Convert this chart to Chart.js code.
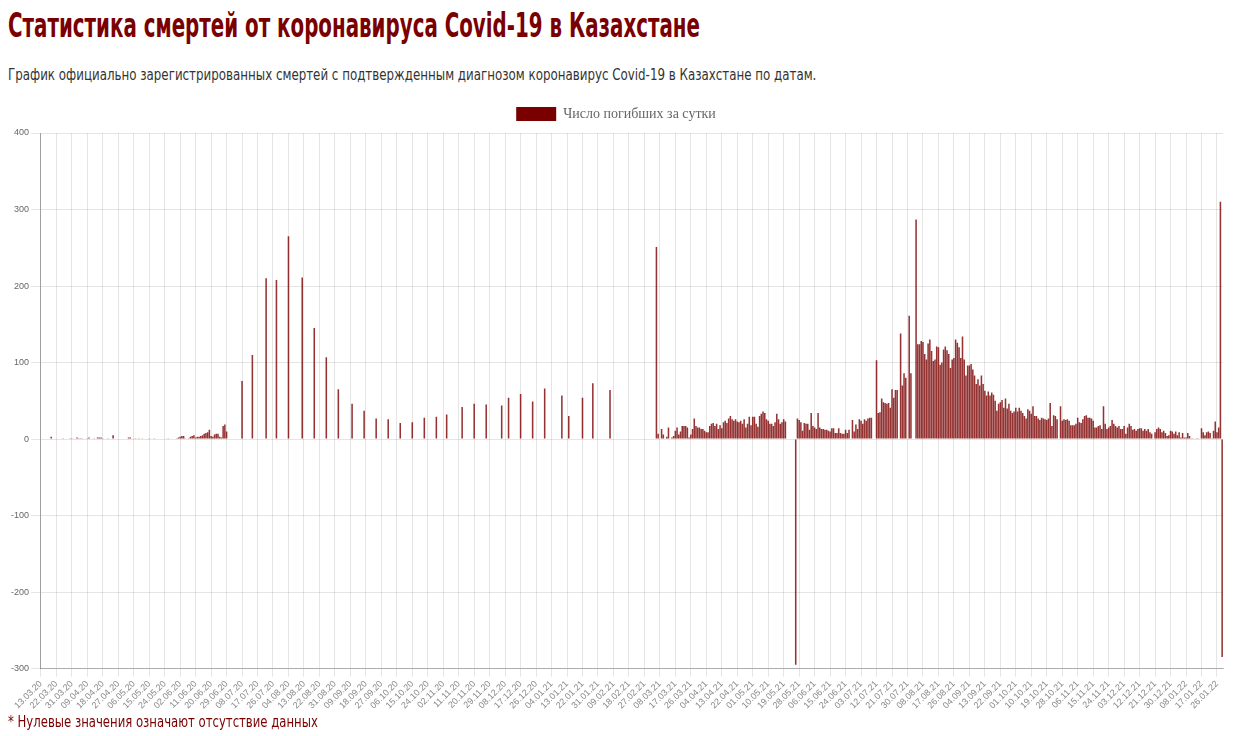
<!DOCTYPE html>
<html><head><meta charset="utf-8">
<script src="https://cdn.jsdelivr.net/npm/chart.js@4.4.0/dist/chart.umd.min.js"></script>
<style>
html,body{margin:0;padding:0;background:#fff;width:1243px;height:736px;overflow:hidden;}
.t{position:absolute;left:8px;white-space:nowrap;transform-origin:0 0;line-height:1;}
#title{top:9px;font-weight:bold;font-size:33px;font-family:"Liberation Sans Narrow","DejaVu Sans Condensed","Roboto Condensed","Liberation Sans",sans-serif;color:#7a0000;}
#sub{top:67px;font-size:16px;font-family:"Liberation Sans Narrow","DejaVu Sans Condensed","Liberation Sans",sans-serif;color:#333;}
#note{top:714px;font-size:16px;font-family:"Liberation Sans Narrow","DejaVu Sans Condensed","Liberation Sans",sans-serif;color:#7a0000;}
#wrap{position:absolute;left:0;top:99px;width:1243px;height:614px;}
</style>
</head><body>
<div class="t" id="title" data-w="692">Статистика смертей от коронавируса Covid-19 в Казахстане</div>
<div class="t" id="sub" data-w="808">График официально зарегистрированных смертей с подтвержденным диагнозом коронавирус Covid-19 в Казахстане по датам.</div>
<div id="wrap"><canvas id="c"></canvas></div>
<div class="t" id="note" data-w="310">* Нулевые значения означают отсутствие данных</div>
<script>
// ---- data ----
const firstDay = '13.03.20';
const lastDay = '29.01.22';
const seriesLabel = 'Число погибших за сутки';

const xTickLabels = ['13.03.20','22.03.20','31.03.20','09.04.20','18.04.20','27.04.20','06.05.20','15.05.20','24.05.20','02.06.20','11.06.20','20.06.20','29.06.20','08.07.20','17.07.20','26.07.20','04.08.20','13.08.20','22.08.20','31.08.20','09.09.20','18.09.20','27.09.20','06.10.20','15.10.20','24.10.20','02.11.20','11.11.20','20.11.20','29.11.20','08.12.20','17.12.20','26.12.20','04.01.21','13.01.21','22.01.21','31.01.21','09.02.21','18.02.21','27.02.21','08.03.21','17.03.21','26.03.21','04.04.21','13.04.21','22.04.21','01.05.21','10.05.21','19.05.21','28.05.21','06.06.21','15.06.21','24.06.21','03.07.21','12.07.21','21.07.21','30.07.21','08.08.21','17.08.21','26.08.21','04.09.21','13.09.21','22.09.21','01.10.21','10.10.21','19.10.21','28.10.21','06.11.21','15.11.21','24.11.21','03.12.21','12.12.21','21.12.21','30.12.21','08.01.22','17.01.22','26.01.22'];
const yTickValues = [-300,-200,-100,0,100,200,300,400];

// daily values, spring 2020 (from 13.03.20)
const spring2020Start = '13.03.20';
const spring2020 = [
 0,0,0,0,0,0,3,0,0,0,
 0,0,0,1,0,0,0,1,1,0,
 0,2,1,1,1,0,0,1,2,0,
 0,1,0,2,2,2,1,0,0,1,
 0,0,5,0,0,0,0,0,0,0,
 0,2,2,0,0,1,0,1,0,1,
 0,0,0,1,0,0,1,0,0,0,
 0,0,0,0,1,0,0,0,0,1,
 2,3,4,4,1,0,1,3,4,5,
 2,3,3,4,5,7,8,9,12,4,
 3,6,7,7,3,2,17,19,10
];

// weekly reports, July 2020 – February 2021
const weekly2020Dates = ['08.07.20','14.07.20','22.07.20','28.07.20','04.08.20','12.08.20','19.08.20','26.08.20','02.09.20','10.09.20','17.09.20','24.09.20','01.10.20','08.10.20','15.10.20','22.10.20','29.10.20','04.11.20','13.11.20','20.11.20','27.11.20','06.12.20','10.12.20','17.12.20','24.12.20','31.12.20','10.01.21','14.01.21','22.01.21','28.01.21','07.02.21'];
const weekly2020Values = [76,110,210,208,265,211,145,107,65,46,37,27,26,21,22,28,29,32,42,46,45,44,54,59,49,66,57,30,54,73,64];

// daily values from 06.03.21
const daily2021aStart = '06.03.21';
const daily2021a = [
 251,7,0,13,6,0,3,15,0,2,
 4,11,15,6,10,17,17,17,15,2,
 6,13,27,17,15,15,13,13,11,9,
 9,17,20,21,17,20,13,18,14,22,
 24,21,27,30,26,24,26,
 23,22,24,20,26,15,20,29,18,29,
 29,20,16,30,33,36,34,26,24,20,
 20,17,22,33,26,20,22,26,23,0,
 0,0,0,0,-295,27,25,22,11,21,
 20,20,12,34,17,15,13,34,15,13,
 13,12,12,11,10,14,14,8,8,14,
 8,7,7,12,8,12,0,25,10,19,
 13,26,24,20,26,24,27,28,28,0,
 0,103,34,35,53,48,47,46,47,41,
 65,54,64,64,0,138,70,86,80,0,
 161,86,0,0
];

// daily values from 04.08.21
const daily2021bStart = '04.08.21';
const daily2021b = [
 287,
 124,124,128,127,111,104,125,130,115,102,
 104,121,120,97,100,117,121,116,111,93,
 104,106,130,126,120,106,134,104,83,96,
 96,98,91,83,72,78,70,83,72,63,
 57,62,57,61,58,50,37,46,48,51,41,
 53,40,46,37,34,36,41,36,41,37,
 34,30,27,39,37,33,43,30,30,27,
 25,28,27,26,25,27,47,17,31,30,
 26,0,43,24,26,25,26,24,18,18,
 18,20,28,22,21,26,
 30,31,28,28,27,24,15,15,17,18,
 13,43,20,13,15,17,25,20,17,15,
 17,13,13,17,7,15,20,17,12,13,
 11,13,14,14,11,13,11,13,9,7,
 0,9,13,15,
 13,9,11,8,4,5,11,10,7,10,
 5,9,2,8,2,2,8,4,1,1,
 0,1,1,0,14,9,5,9,10,8,
 1,11,23,9,15,310,-285
];

// ---- build categories (every calendar day) ----
function parseD(s){const [d,m,y]=s.split('.').map(Number);return Date.UTC(2000+y,m-1,d);}
function fmt(t){const d=new Date(t);const p=n=>String(n).padStart(2,'0');return p(d.getUTCDate())+'.'+p(d.getUTCMonth()+1)+'.'+p(d.getUTCFullYear()%100);}
const DAY=86400000;
const labels=[];
for(let t=parseD(firstDay);t<=parseD(lastDay);t+=DAY) labels.push(fmt(t));
const idx={}; labels.forEach((l,i)=>idx[l]=i);
const values=labels.map(()=>0);
function place(start,arr){const s=idx[start];arr.forEach((v,k)=>{values[s+k]=v;});}
place(spring2020Start,spring2020);
weekly2020Dates.forEach((d,k)=>{values[idx[d]]=weekly2020Values[k];});
place(daily2021aStart,daily2021a);
place(daily2021bStart,daily2021b);
const tickSet=new Set(xTickLabels);

// ---- fit header widths ----
function fit(){document.querySelectorAll('.t').forEach(el=>{const w=+el.dataset.w;const a=el.offsetWidth;if(a>0)el.style.transform='scaleX('+(w/a)+')';});}
fit();

const legendNudge={id:'legendNudge',afterLayout(chart){const l=chart.legend;if(l){l.top-=2;l.bottom-=2;}}};

new Chart(document.getElementById('c'),{
  type:'bar',
  data:{labels:labels,datasets:[{label:seriesLabel,data:values,backgroundColor:'rgba(122,0,0,0.8)',borderColor:'#7a0000',borderWidth:0,barPercentage:1,categoryPercentage:0.9}]},
  plugins:[legendNudge],
  options:{
    responsive:true,maintainAspectRatio:false,animation:false,
    layout:{padding:{left:9,right:20,top:0,bottom:0}},
    plugins:{
      legend:{display:true,position:'top',labels:{boxWidth:40,boxHeight:14,padding:10,color:'#666',font:{family:'"Liberation Serif","Times New Roman",serif',size:14},
        generateLabels:function(chart){const l=Chart.defaults.plugins.legend.labels.generateLabels(chart);l.forEach(o=>{o.fillStyle='#7a0000';o.strokeStyle='#7a0000';o.lineWidth=0;});return l;}}},
      tooltip:{enabled:false}
    },
    scales:{
      x:{
        grid:{color:'rgba(0,0,0,0.1)',offset:false,tickLength:8},
        border:{color:'rgba(0,0,0,0.25)'},
        ticks:{autoSkip:false,minRotation:45,maxRotation:45,color:'#888',padding:2,
          font:{family:'"Liberation Sans",Arial,sans-serif',size:9},
          callback:function(v,i){const l=labels[i];return tickSet.has(l)?l:null;}}
      },
      y:{
        min:yTickValues[0],max:yTickValues[yTickValues.length-1],
        afterBuildTicks:function(s){s.ticks=yTickValues.map(v=>({value:v}));},
        grid:{color:'rgba(0,0,0,0.1)',tickLength:9},
        border:{color:'rgba(0,0,0,0.3)'},
        ticks:{color:'#666',padding:2,font:{family:'"Liberation Sans",Arial,sans-serif',size:9}}
      }
    }
  }
});
</script>
</body></html>
